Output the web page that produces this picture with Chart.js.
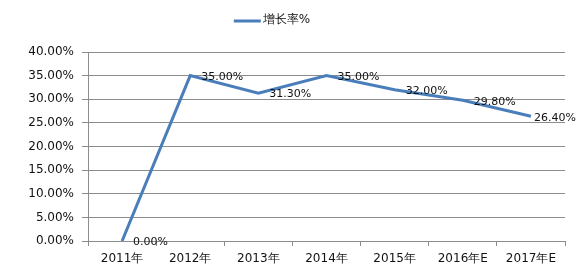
<!DOCTYPE html>
<html>
<head>
<meta charset="utf-8">
<script src="https://cdn.jsdelivr.net/npm/chart.js@4/dist/chart.umd.min.js"></script>
<style>
  html, body { margin: 0; padding: 0; background: #fff; }
  #wrap { width: 581px; height: 268px; }
</style>
</head>
<body>
<div id="wrap"><canvas id="c" width="581" height="268"></canvas></div>
<script>
const categories = ['2011年', '2012年', '2013年', '2014年', '2015年', '2016年E', '2017年E'];
const seriesName = '增长率%';
const growthRates = [0.00, 35.00, 31.30, 35.00, 32.00, 29.80, 26.40];
const yTicks = [0, 5, 10, 15, 20, 25, 30, 35, 40];

const FONT = '"DejaVu Sans", sans-serif';
const LINE_BLUE = '#4A7EBB';
const GRID_GRAY = '#8C8C8C';

// Value labels placed to the right of each point, kept inside the canvas
const valueLabels = {
  id: 'valueLabels',
  afterDatasetsDraw(chart) {
    const ctx = chart.ctx;
    const meta = chart.getDatasetMeta(0);
    ctx.save();
    ctx.font = '11px ' + FONT;
    ctx.fillStyle = '#111';
    ctx.textAlign = 'left';
    ctx.textBaseline = 'middle';
    meta.data.forEach((pt, i) => {
      const txt = growthRates[i].toFixed(2) + '%';
      const w = ctx.measureText(txt).width;
      let x = pt.x + 11;
      if (x + w > chart.width - 5) x = chart.width - 5 - w;
      ctx.fillText(txt, x, pt.y + 1.5);
    });
    ctx.restore();
  }
};

// Series key above the plot: a short line swatch and the series name
const topLegend = {
  id: 'topLegend',
  afterDraw(chart) {
    const ctx = chart.ctx;
    ctx.save();
    ctx.font = '12px ' + FONT;
    const swatch = 27, gap = 2;
    const textW = ctx.measureText(seriesName).width;
    const total = swatch + gap + textW;
    const x0 = 272 - total / 2;
    const y = 20;
    ctx.strokeStyle = LINE_BLUE;
    ctx.lineWidth = 3;
    ctx.beginPath();
    ctx.moveTo(x0, y + 1);
    ctx.lineTo(x0 + swatch, y + 1);
    ctx.stroke();
    ctx.fillStyle = '#111';
    ctx.textAlign = 'left';
    ctx.textBaseline = 'middle';
    ctx.fillText(seriesName, x0 + swatch + gap, y);
    ctx.restore();
  }
};

new Chart(document.getElementById('c'), {
  type: 'line',
  data: {
    labels: categories,
    datasets: [{
      label: seriesName,
      data: growthRates,
      borderColor: LINE_BLUE,
      backgroundColor: LINE_BLUE,
      borderWidth: 3,
      pointRadius: 0,
      tension: 0,
      fill: false
    }]
  },
  options: {
    responsive: false,
    animation: false,
    layout: { padding: { left: 0, right: 16, top: 52, bottom: 0 } },
    plugins: {
      legend: { display: false },
      tooltip: { enabled: false }
    },
    scales: {
      x: {
        type: 'category',
        offset: true,
        grid: {
          offset: true,
          drawOnChartArea: false,
          drawTicks: true,
          tickLength: 5,
          color: GRID_GRAY
        },
        border: { display: true, color: GRID_GRAY, width: 1 },
        ticks: {
          color: '#111',
          font: { family: FONT, size: 12 },
          padding: 6,
          maxRotation: 0,
          autoSkip: false
        },
        afterFit(scale) { scale.height = 27; }
      },
      y: {
        min: 0,
        max: 40,
        afterBuildTicks(scale) {
          scale.ticks = yTicks.map(v => ({ value: v }));
        },
        grid: {
          color: GRID_GRAY,
          lineWidth: 1,
          drawTicks: true,
          tickLength: 6
        },
        border: { display: true, color: GRID_GRAY, width: 1 },
        ticks: {
          color: '#111',
          font: { family: FONT, size: 12 },
          padding: 8,
          callback: v => v.toFixed(2) + '%'
        },
        afterFit(scale) { scale.width = 88; }
      }
    }
  },
  plugins: [valueLabels, topLegend]
});
</script>
</body>
</html>
